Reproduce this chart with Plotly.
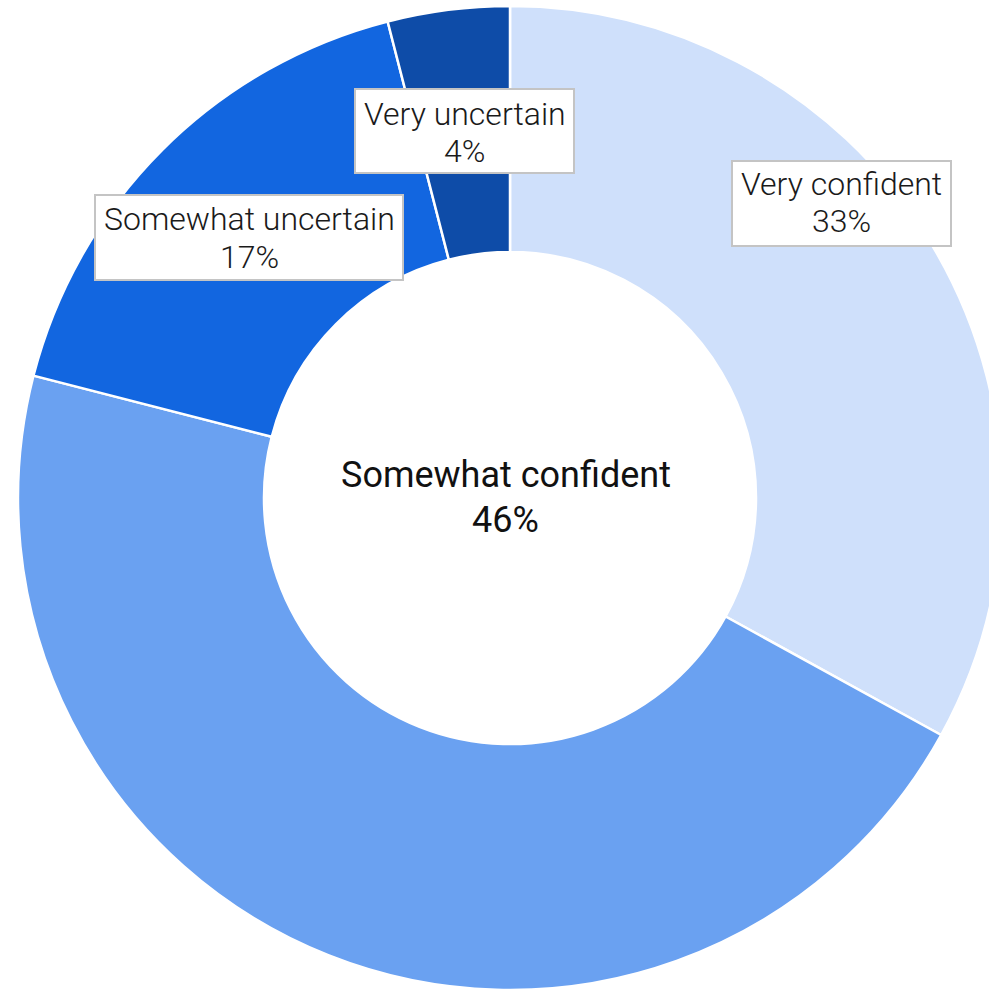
import plotly.graph_objects as go

categories = ["Very confident", "Somewhat confident", "Somewhat uncertain", "Very uncertain"]
values = [33, 46, 17, 4]
colors = ["#CFE0FB", "#6AA1F1", "#1266E0", "#0E4CA8"]

W, H = 1003, 990
ML, MR, MT, MB = 18, 1, 6, 0
PW, PH = W - ML - MR, H - MT - MB


def px_x(x):
    return (x - ML) / PW


def px_y(y):
    return (H - MB - y) / PH


fig = go.Figure(go.Pie(
    labels=categories,
    values=values,
    marker=dict(colors=colors, line=dict(color="white", width=2.5)),
    hole=0.5,
    sort=False,
    direction="clockwise",
    rotation=0,
    textinfo="none",
    showlegend=False,
))

# label layout in pixels: box (x0, y0, x1, y1) or None, text centre x, baselines of both lines
label_layout = {
    "Very confident": dict(box=(732, 161, 951, 246), cx=841.5, base=(195, 232)),
    "Very uncertain": dict(box=(355, 89, 574, 173), cx=464.5, base=(125, 162)),
    "Somewhat uncertain": dict(box=(95, 195, 403, 280), cx=249, base=(230, 268)),
    "Somewhat confident": dict(box=None, cx=505.5, base=(487, 532)),
}

total = sum(values)
annotations = []
shapes = []
for cat, v in zip(categories, values):
    lay = label_layout[cat]
    lines = [cat, f"{round(100 * v / total)}%"]
    if lay["box"] is not None:
        x0, y0, x1, y1 = lay["box"]
        shapes.append(dict(
            type="rect", xref="paper", yref="paper",
            x0=px_x(x0), x1=px_x(x1), y0=px_y(y1), y1=px_y(y0),
            line=dict(color="#c4c4c4", width=2), fillcolor="white", layer="above",
        ))
        size, weight, color = 32, 300, "#1a1a1a"
    else:
        size, weight, color = 36, 400, "#111111"
    for txt, base in zip(lines, lay["base"]):
        cy = base - 0.34 * size
        annotations.append(dict(
            x=px_x(lay["cx"]), y=px_y(cy), xref="paper", yref="paper",
            text=txt, showarrow=False,
            font=dict(family="Roboto", size=size, color=color, weight=weight),
            xanchor="center", yanchor="middle", borderpad=0,
        ))

fig.update_layout(
    width=W, height=H,
    margin=dict(l=ML, r=MR, t=MT, b=MB),
    paper_bgcolor="white", plot_bgcolor="white",
    annotations=annotations,
    shapes=shapes,
)

fig.write_html(
    "out.html",
    config={"displayModeBar": False},
    post_script="document.body.style.margin='0';document.body.style.overflow='hidden';",
)
